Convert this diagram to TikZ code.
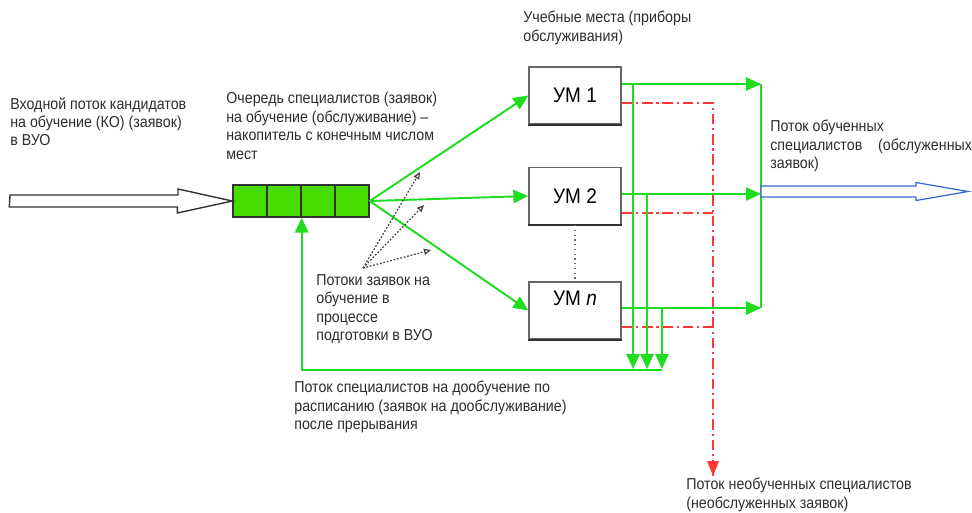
\documentclass[tikz,border=0pt]{standalone}
\usepackage{fontspec}
\setmainfont{Liberation Sans}[FakeStretch=0.9]
\usetikzlibrary{arrows.meta,positioning,calc}

\definecolor{flowgreen}{RGB}{30,220,30}
\definecolor{queuegreen}{RGB}{70,222,0}
\definecolor{lossred}{RGB}{255,55,55}
\definecolor{outblue}{RGB}{55,105,205}
\definecolor{txtgray}{RGB}{45,45,45}

\tikzset{
  lbl/.style={anchor=north west, align=left, inner sep=0pt, text=txtgray,
    font=\fontsize{9}{10.5}\selectfont},
  cell/.style={draw=black!80, line width=0.8pt, fill=queuegreen,
    minimum width=0.68cm, minimum height=0.64cm, inner sep=0pt},
  umbox/.style={draw=black!60, line width=0.8pt, fill=white,
    minimum width=1.84cm, minimum height=1.14cm, inner sep=0pt,
    font=\fontsize{12}{14}\selectfont},
  flow/.style={color=flowgreen, line width=1.1pt, -{Triangle[length=8.5pt,width=7.5pt]}},
  flowline/.style={color=flowgreen, line width=1.1pt},
  lossline/.style={color=lossred, line width=1.1pt, dash pattern=on 6pt off 2.2pt on 1.2pt off 2.2pt},
  trainflow/.style={color=black!75, line width=0.7pt, dash pattern=on 1pt off 1pt,
    -{Triangle[open,length=4pt,width=3.5pt]}},
}

\begin{document}
\begin{tikzpicture}[x=0.02cm, y=-0.02cm]
    \useasboundingbox (0,0) rectangle (972,512);

    % queue of four places
    \foreach \i in {1,...,4} {
        \node[cell] (q\i) at ({233+34*(\i-1)+17},201) {};
    }

    % training places
    \node[umbox] (um1) at (575,95.5) {УМ 1};
    \node[umbox] (um2) at (575,196) {УМ 2};
    \node[umbox, text height=0.47cm, text depth=0.67cm] (umn) at (575,310.5) {УМ \textit{n}};
    \foreach \u in {um1,um2,umn} {
        \draw[black!80, line width=1.3pt] (\u.south west) -- (\u.south east);
    }
    \draw[black!60, dotted, line width=0.7pt] (um2.south) -- (umn.north);

    % helper points
    \coordinate (inbeg) at (10,201);
    \coordinate (bus) at (761,191.5);
    \coordinate (outtip) at (968,191.5);
    \coordinate (lossend) at (713,476);
    \coordinate (back) at (662,370);
    \coordinate (ret1) at (633,369);
    \coordinate (ret2) at (647,369);
    \coordinate (ret3) at (662,369);
    \coordinate (src) at (363,268);
    \coordinate (t1) at (420,172);
    \coordinate (t2) at (424,205);
    \coordinate (t3) at (431,250);
    \coordinate (out1) at (um1.east |- 0,84);
    \coordinate (out2) at (um2.east |- 0,194);
    \coordinate (out3) at (umn.east |- 0,308);
    \coordinate (loss1) at (um1.east |- 0,103);
    \coordinate (loss2) at (um2.east |- 0,213);
    \coordinate (loss3) at (umn.east |- 0,327);

    % incoming flow
    \draw[black!80, line width=0.8pt, fill=white]
        (inbeg) ++(0,-6) -- ++(168,0) -- ++(0,-6) -- (q1.west)
        -- ++(-55,12) -- ++(0,-6) -- ++(-168,0) -- cycle;

    % queue to places
    \foreach \u in {um1,um2,umn} {
        \draw[flow] (q4.east) -- (\u.west);
    }

    % losses
    \draw[lossline] (loss1) -- (loss1 -| lossend) -- (lossend);
    \draw[lossline] (loss2) -- (loss2 -| lossend);
    \draw[lossline] (loss3) -- (loss3 -| lossend);
    \fill[lossred] (lossend) -- ++(-6,-15) -- ++(12,0) -- cycle;

    % outputs and returns
    \draw[flow] (out1) -- (out1 -| bus);
    \draw[flow] (out2) -- (out2 -| bus);
    \draw[flow] (out3) -- (out3 -| bus);
    \draw[flowline] (out1 -| bus) -- (out3 -| bus);
    \draw[flow] (out1 -| ret1) -- (ret1);
    \draw[flow] (out2 -| ret2) -- (ret2);
    \draw[flow] (out3 -| ret3) -- (ret3);

    % back to the queue
    \draw[flow] (back) -- (back -| q2.south east) -- (q2.south east);

    % trained flow out
    \draw[outblue, line width=0.7pt, fill=white]
        (bus) ++(0,-5.5) -- ++(155,0) -- ++(0,-3.5) -- (outtip)
        -- ++(-52,9) -- ++(0,-3.5) -- ++(-155,0) -- cycle;

    % flows in training
    \foreach \t in {t1,t2,t3} {
        \draw[trainflow] (src) -- (\t);
    }

    % labels
    \node[lbl] (inlbl) at (10,97) {Входной поток кандидатов\\на обучение (КО) (заявок)\\в ВУО};
    \node[lbl] (queuelbl) at (226,92) {Очередь специалистов (заявок)\\на обучение (обслуживание) –\\накопитель с конечным числом\\мест};
    \node[lbl] (umlbl) at (523,11) {Учебные места (приборы\\обслуживания)};
    \node[lbl] (flowslbl) at (316,274) {Потоки заявок на\\обучение в\\процессе\\подготовки в ВУО};
    \node[lbl] (donelbl) at (770,120) {Поток обученных\\специалистов\quad(обслуженных\\заявок)};
    \node[lbl] (backlbl) at (294,381) {Поток специалистов на дообучение по\\расписанию (заявок на дообслуживание)\\после прерывания};
    \node[lbl] (losslbl) at (686,478) {Поток необученных специалистов\\(необслуженных заявок)};
\end{tikzpicture}
\end{document}
